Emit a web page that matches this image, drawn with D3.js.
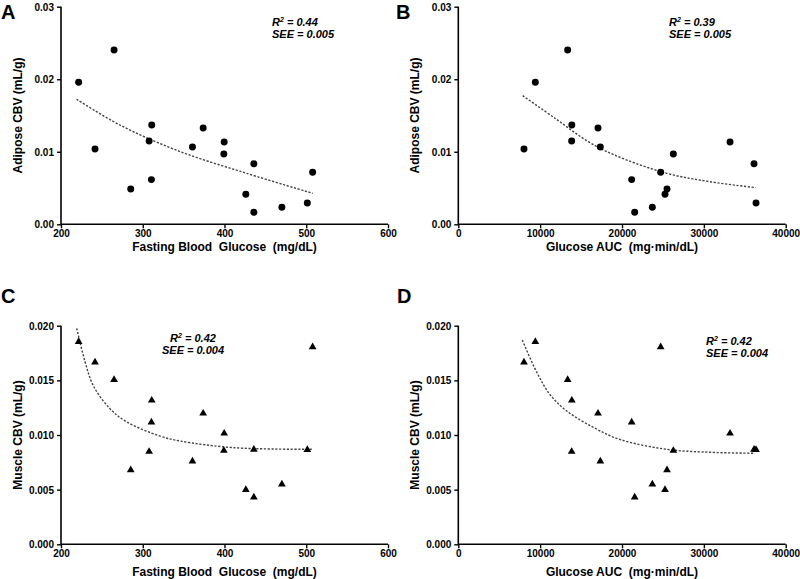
<!DOCTYPE html>
<html><head><meta charset="utf-8">
<script src="https://cdn.jsdelivr.net/npm/d3@7"></script>
<style>
html,body{margin:0;padding:0;background:#fff;}
svg{display:block;font-family:"Liberation Sans",Arial,sans-serif;}
</style></head>
<body><svg id="c" width="800" height="579"></svg>
<script>
// ---- data (one entry per subject) ----
const glucose = [221.6, 241.6, 264.9, 285.3, 307.8, 311.0, 310.6, 360.8, 373.9, 399.6, 399.2, 426.1, 435.9, 435.9, 470.2, 501.3, 507.8];
const glucoseAUC = [9409, 8024, 13360, 25499, 13849, 13870, 21181, 17352, 17067, 33197, 26273, 25255, 36130, 21548, 23707, 36375, 24725];
const adiposeCBV = [0.01957, 0.01038, 0.02403, 0.00487, 0.01148, 0.01369, 0.00616, 0.01066, 0.01328, 0.01135, 0.00969, 0.00413, 0.00836, 0.00165, 0.00234, 0.00294, 0.00717];
const muscleCBV = [0.01854, 0.01665, 0.01505, 0.00679, 0.00848, 0.01317, 0.01116, 0.00759, 0.01198, 0.01015, 0.00857, 0.00500, 0.00868, 0.00430, 0.00549, 0.00866, 0.01805];

// fitted curves
const fitA_x = [219, 272, 344, 427, 508];
const fitA_y = [0.01724, 0.01369, 0.01010, 0.00703, 0.00427];
const fitB_x = [7870, 11817, 15886, 19063, 25467, 30757, 36379];
const fitB_y = [0.01773, 0.01462, 0.01139, 0.00956, 0.00703, 0.00587, 0.00505];
const fitC_x = [219.2, 229.4, 239.6, 260, 280.4, 321.2, 345.7, 411, 507];
const fitC_y = [0.01976, 0.01670, 0.01450, 0.01240, 0.01120, 0.00990, 0.00945, 0.00884, 0.00869];
const fitD_x = [7821, 9580, 11206, 13246, 16500, 19675, 25467, 30757, 36256];
const fitD_y = [0.01869, 0.01575, 0.01370, 0.01220, 0.01070, 0.00961, 0.00869, 0.00842, 0.00833];

const glucoseTicks = [200, 300, 400, 500, 600];
const aucTicks = [0, 10000, 20000, 30000, 40000];
const adiposeTicks = [0, 0.01, 0.02, 0.03];
const muscleTicks = [0, 0.005, 0.010, 0.015, 0.020];

const panels = [
  {letter:"A", lx:1, ly:19, x:glucose, y:adiposeCBV, fx:fitA_x, fy:fitA_y, xd:[200,600], yd:[0,0.03],
   xt:glucoseTicks, yt:adiposeTicks, yf:".2f", marker:"circle",
   L:61, R:388, T:6.7, B:224.3, xTitle:"Fasting Blood  Glucose  (mg/dL)", yTitle:"Adipose CBV (mL/g)",
   xTitleY:251, yTitleX:22, stats:["0.44","0.005"], sx:272, sy:26, anchor:"start"},
  {letter:"B", lx:396, ly:19, x:glucoseAUC, y:adiposeCBV, fx:fitB_x, fy:fitB_y, xd:[0,40000], yd:[0,0.03],
   xt:aucTicks, yt:adiposeTicks, yf:".2f", marker:"circle",
   L:458.3, R:785.7, T:6.7, B:224.3, xTitle:"Glucose AUC  (mg\u00B7min/dL)", yTitle:"Adipose CBV (mL/g)",
   xTitleY:251, yTitleX:419, stats:["0.39","0.005"], sx:669, sy:26, anchor:"start"},
  {letter:"C", lx:1, ly:303, x:glucose, y:muscleCBV, fx:fitC_x, fy:fitC_y, xd:[200,600], yd:[0,0.02],
   xt:glucoseTicks, yt:muscleTicks, yf:".3f", marker:"triangle",
   L:61, R:388, T:325.7, B:544.3, xTitle:"Fasting Blood  Glucose  (mg/dL)", yTitle:"Muscle CBV (mL/g)",
   xTitleY:576, yTitleX:22, stats:["0.42","0.004"], sx:193, sy:342, anchor:"middle"},
  {letter:"D", lx:397, ly:303, x:glucoseAUC, y:muscleCBV, fx:fitD_x, fy:fitD_y, xd:[0,40000], yd:[0,0.02],
   xt:aucTicks, yt:muscleTicks, yf:".3f", marker:"triangle",
   L:458.3, R:785.7, T:325.7, B:544.3, xTitle:"Glucose AUC  (mg\u00B7min/dL)", yTitle:"Muscle CBV (mL/g)",
   xTitleY:576, yTitleX:419, stats:["0.42","0.004"], sx:706, sy:345, anchor:"start"}
];

const svg = d3.select("#c");
svg.append("rect").attr("width",800).attr("height",579).attr("fill","#fff");

panels.forEach(p => {
  const xs = d3.scaleLinear().domain(p.xd).range([p.L, p.R]);
  const ys = d3.scaleLinear().domain(p.yd).range([p.B, p.T]);
  const g = svg.append("g");

  // axes
  const xa = g.append("g").attr("transform",`translate(0,${p.B})`)
    .call(d3.axisBottom(xs).tickValues(p.xt).tickFormat(d3.format("d")).tickSize(4).tickPadding(2));
  const ya = g.append("g").attr("transform",`translate(${p.L},0)`)
    .call(d3.axisLeft(ys).tickValues(p.yt).tickFormat(d3.format(p.yf)).tickSize(4).tickPadding(3));
  [xa, ya].forEach(a => {
    a.select(".domain").attr("stroke","#000").attr("stroke-width",1.6);
    a.selectAll(".tick line").attr("stroke","#000").attr("stroke-width",1.4);
    a.selectAll(".tick text").attr("fill","#000").style("font-size","10px").style("font-weight","bold")
      .style("font-family","'Liberation Sans',Arial,sans-serif");
  });
  ya.select(".domain").attr("d", `M-0,${p.B}V${p.T}`);
  xa.select(".domain").attr("d", `M${p.L},0H${p.R}`);
  ya.selectAll(".tick text").attr("dy","0.35em");

  // fit curve
  const fit = p.fx.map((v,i)=>[v, p.fy[i]]);
  g.append("path").datum(fit)
    .attr("d", d3.line().x(d=>xs(d[0])).y(d=>ys(d[1])).curve(d3.curveCatmullRom.alpha(0.5)))
    .attr("fill","none").attr("stroke","#444").attr("stroke-width",1.4)
    .attr("stroke-dasharray","2.2,1.6");

  // points
  const pts = p.x.map((v,i)=>[v, p.y[i]]);
  const sym = d3.symbol().type(p.marker==="circle" ? d3.symbolCircle : d3.symbolTriangle)
    .size(p.marker==="circle" ? 38 : 26);
  g.selectAll("path.pt").data(pts).enter().append("path").attr("class","pt")
    .attr("transform", d=>`translate(${xs(d[0])},${ys(d[1])})`)
    .attr("d", sym).attr("fill","#000");

  // titles
  g.append("text").attr("x",(p.L+p.R)/2).attr("y",p.xTitleY).attr("text-anchor","middle")
    .style("font-size","12px").style("font-weight","bold").style("white-space","pre")
    .attr("xml:space","preserve").text(p.xTitle);
  g.append("text").attr("transform",`translate(${p.yTitleX},${(p.T+p.B)/2}) rotate(-90)`)
    .attr("text-anchor","middle").style("font-size","12px").style("font-weight","bold").text(p.yTitle);

  // panel letter
  g.append("text").attr("x",p.lx).attr("y",p.ly).style("font-size","20px").style("font-weight","bold").text(p.letter);

  // stats
  const st = g.append("text").attr("x",p.sx).attr("y",p.sy).attr("text-anchor",p.anchor)
    .style("font-size","11px").style("font-weight","bold").style("font-style","italic");
  st.append("tspan").text("R");
  st.append("tspan").attr("dy",-4).style("font-size","7px").text("2");
  st.append("tspan").attr("dy",4).text(" = " + p.stats[0]);
  g.append("text").attr("x",p.sx).attr("y",p.sy+12).attr("text-anchor",p.anchor)
    .style("font-size","11px").style("font-weight","bold").style("font-style","italic")
    .text("SEE = " + p.stats[1]);
});
</script></body></html>
